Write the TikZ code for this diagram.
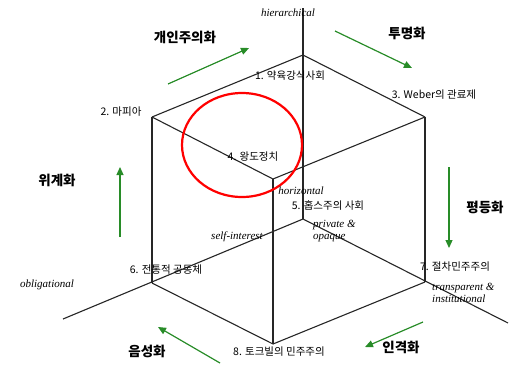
\documentclass[tikz,border=0pt]{standalone}
\usepackage{fontspec}
\setmainfont{Liberation Serif}
\newfontfamily\kr{Noto Sans CJK KR}
\usetikzlibrary{arrows.meta}
\definecolor{arrowgreen}{RGB}{40,140,40}
\tikzset{
  edge/.style={line width=1.1pt, draw=black!85},
  lbl/.style={font=\kr\fontsize{10.5}{12}\selectfont, inner sep=0pt},
  trend/.style={font=\kr\bfseries\fontsize{13.5}{15}\selectfont, inner sep=0pt},
  axislbl/.style={font=\itshape\fontsize{11}{12}\selectfont, inner sep=0pt},
  garrow/.style={draw=arrowgreen, line width=1.2pt, -{Triangle[length=8pt,width=7pt]}},
}
\begin{document}
\begin{tikzpicture}[x=1pt,y=-1pt]
\useasboundingbox (0,0) rectangle (513,365);
% cube vertices
\coordinate (v1) at (303,55);
\coordinate (v2) at (152,117);
\coordinate (v3) at (425,117);
\coordinate (v4) at (273,179);
\coordinate (v5) at (303,219);
\coordinate (v6) at (152,283);
\coordinate (v7) at (425,282);
\coordinate (v8) at (273,344);
% axis ends
\coordinate (atop) at (303,8);
\coordinate (aleft) at (63,319);
\coordinate (aright) at (508,323);
% edges
\draw[edge] (v2) -- (v1) -- (v3);
\draw[edge] (v2) -- (v4) -- (v3);
\draw[edge] (v2) -- (v6);
\draw[edge] (v3) -- (v7);
\draw[edge] (v4) -- (v8);
\draw[edge] (v6) -- (v8) -- (v7);
\draw[edge] (atop) -- (v5);
\draw[edge] (v5) -- (aleft);
\draw[edge] (v5) -- (aright);
% red ellipse
\draw[red, line width=2.2pt] (242,145) ellipse [x radius=60, y radius=52];
% vertex labels
\node[lbl] (l1) at (290,76) {1. 약육강식사회};
\node[lbl] (l2) at (121,112) {2. 마피아};
\node[lbl] (l3) at (434,95) {3. Weber의 관료제};
\node[lbl] (l4) at (253,157) {4. 왕도정치};
\node[lbl] (l5) at (328,205) {5. 홉스주의 사회};
\node[lbl] (l6) at (166,270) {6. 전통적 공동체};
\node[lbl] (l7) at (455,267) {7. 절차민주주의};
\node[lbl] (l8) at (279,352) {8. 토크빌의 민주주의};
% axis labels
\node[axislbl] (hier) at (288,13) {hierarchical};
\node[axislbl] (horiz) at (301,191) {horizontal};
\node[axislbl] (self) at (237,237) {self-interest};
\node[axislbl] (oblig) at (47,285) {obligational};
\node[axislbl, align=left, anchor=north west] (priv) at (313,220) {private \&\\opaque};
\node[axislbl, align=left, anchor=north west] (transp) at (432,283) {transparent \&\\institutional};
% trend labels
\node[trend] (t1) at (185,37) {개인주의화};
\node[trend] (t2) at (407,33) {투명화};
\node[trend] (t3) at (57,180) {위계화};
\node[trend] (t4) at (485,207) {평등화};
\node[trend] (t5) at (147,351) {음성화};
\node[trend] (t6) at (401,347) {인격화};
% green arrows
\coordinate (g1s) at (168,84);  \coordinate (g1e) at (249,48);
\coordinate (g2s) at (335,31);  \coordinate (g2e) at (412,68);
\coordinate (g3s) at (120,237); \coordinate (g3e) at (120,167);
\coordinate (g4s) at (449,167); \coordinate (g4e) at (449,248);
\coordinate (g5s) at (220,363); \coordinate (g5e) at (158,327);
\coordinate (g6s) at (423,322); \coordinate (g6e) at (365,347);
\draw[garrow] (g1s) -- (g1e);
\draw[garrow] (g2s) -- (g2e);
\draw[garrow] (g3s) -- (g3e);
\draw[garrow] (g4s) -- (g4e);
\draw[garrow] (g5s) -- (g5e);
\draw[garrow] (g6s) -- (g6e);
\end{tikzpicture}
\end{document}
